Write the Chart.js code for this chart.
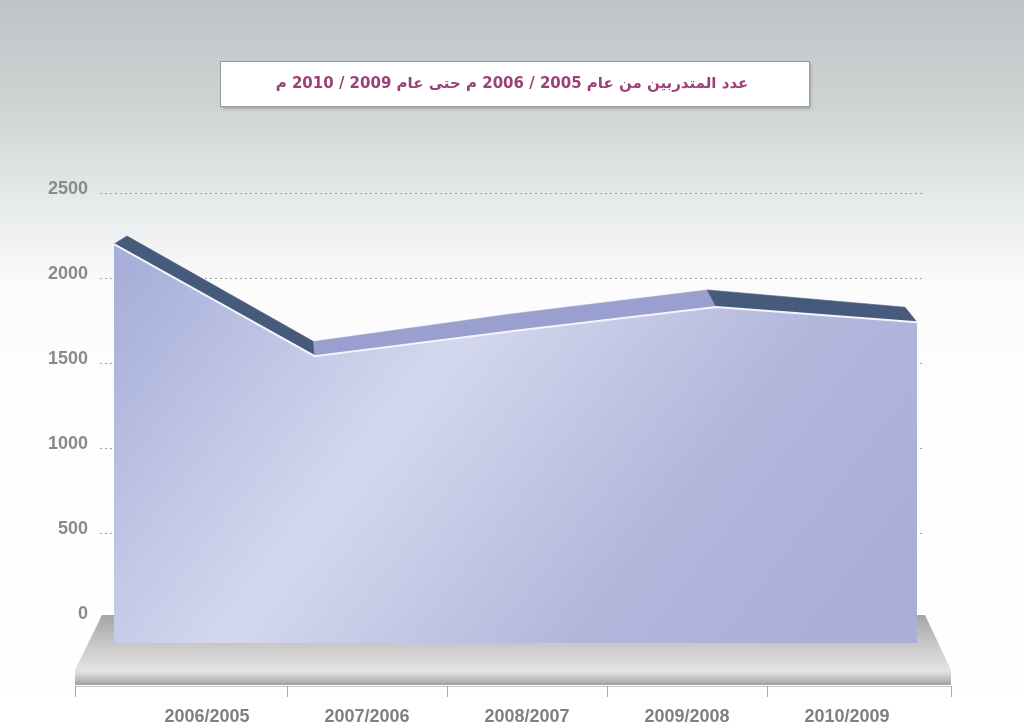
<!DOCTYPE html>
<html>
<head>
<meta charset="utf-8">
<script src="https://cdn.jsdelivr.net/npm/chart.js@4.4.1/dist/chart.umd.min.js"></script>
<style>
  html, body { margin: 0; padding: 0; background: #ffffff; }
  #wrap { width: 1024px; height: 726px; }
  canvas { display: block; }
</style>
</head>
<body>
<div id="wrap"><canvas id="c" width="1024" height="726"></canvas></div>
<script>
// ---- data ----
const categories = ['2006/2005', '2007/2006', '2008/2007', '2009/2008', '2010/2009'];
const trainees = [2200, 1540, 1690, 1830, 1740];
const yTicks = [0, 500, 1000, 1500, 2000, 2500];
const titleText = 'عدد المتدربين من عام 2005 / 2006 م حتى عام 2009 / 2010 م';

// ---- style constants ----
const FACE_BOTTOM = -147;           // value where the front face meets the floor
const DEPTH = [[0, 13, -8], [0.3, -4, -16], [0.75, -9, -17], [1, -12, -15]];
const STRIP_DARK = '#465a7b';
const STRIP_LIGHT = '#99a0cf';

function depthAt(f) {
  for (let i = 0; i < DEPTH.length - 1; i++) {
    const a = DEPTH[i], b = DEPTH[i + 1];
    if (f <= b[0]) {
      const t = (f - a[0]) / (b[0] - a[0]);
      return [a[1] + (b[1] - a[1]) * t, a[2] + (b[2] - a[2]) * t];
    }
  }
  const l = DEPTH[DEPTH.length - 1];
  return [l[1], l[2]];
}

const scenePlugin = {
  id: 'scene',
  beforeDraw(chart) {
    const ctx = chart.ctx;
    const W = chart.width, H = chart.height;
    ctx.save();
    const bg = ctx.createLinearGradient(0, 0, 0, H);
    bg.addColorStop(0, '#bec4c5');
    bg.addColorStop(0.14, '#cdd2d3');
    bg.addColorStop(0.27, '#e6e9ea');
    bg.addColorStop(0.40, '#fcfcfc');
    bg.addColorStop(1, '#ffffff');
    ctx.fillStyle = bg;
    ctx.fillRect(0, 0, W, H);
    // title box
    const bw = 589, bh = 45;
    const bx = 220.5, by = 61.5;
    ctx.shadowColor = 'rgba(0,0,0,0.28)';
    ctx.shadowBlur = 3;
    ctx.shadowOffsetX = 1;
    ctx.shadowOffsetY = 2;
    ctx.fillStyle = '#ffffff';
    ctx.fillRect(bx, by, bw, bh);
    ctx.shadowColor = 'transparent';
    ctx.strokeStyle = '#9a9a9a';
    ctx.lineWidth = 1;
    ctx.strokeRect(bx, by, bw, bh);
    ctx.restore();
  },
  beforeDatasetsDraw(chart) {
    const ctx = chart.ctx;
    const ca = chart.chartArea;
    const ys = chart.scales.y;
    const xl = chart.scales.x;
    const y0 = ys.getPixelForValue(0);
    const backY = y0 - 3, frontY = y0 + 52, bandY = y0 + 67;
    const bL = ca.left + 2, bR = ca.right;
    const fL = ca.left - 25, fR = ca.right + 26;
    ctx.save();
    // floor top
    let g = ctx.createLinearGradient(0, backY, 0, frontY);
    g.addColorStop(0, '#a5a5a5');
    g.addColorStop(0.5, '#c6c6c6');
    g.addColorStop(1, '#e3e3e3');
    ctx.fillStyle = g;
    ctx.beginPath();
    ctx.moveTo(bL, backY);
    ctx.lineTo(bR, backY);
    ctx.lineTo(fR, frontY);
    ctx.lineTo(fL, frontY);
    ctx.closePath();
    ctx.fill();
    // floor front band
    g = ctx.createLinearGradient(0, frontY, 0, bandY);
    g.addColorStop(0, '#e6e6e6');
    g.addColorStop(0.35, '#d2d2d2');
    g.addColorStop(1, '#9f9f9f');
    ctx.fillStyle = g;
    ctx.fillRect(fL, frontY, fR - fL, bandY - frontY);
    // axis line and separators
    ctx.strokeStyle = '#c4c4c4';
    ctx.lineWidth = 1;
    ctx.beginPath();
    ctx.moveTo(fL, ca.bottom + 0.5);
    ctx.lineTo(fR, ca.bottom + 0.5);
    ctx.stroke();
    const seps = [fL];
    for (let i = 0; i < categories.length - 1; i++) seps.push(xl.getPixelForValue(i + 0.5));
    seps.push(fR);
    ctx.strokeStyle = '#a8a8a8';
    ctx.beginPath();
    seps.forEach(x => {
      const px = Math.round(x) + 0.5;
      ctx.moveTo(px, ca.bottom);
      ctx.lineTo(px, ca.bottom + 11);
    });
    ctx.stroke();
    // 3D top strip
    const pts = chart.getDatasetMeta(0).data;
    const x0 = pts[0].x, x1 = pts[pts.length - 1].x;
    const back = pts.map(p => {
      const d = depthAt((p.x - x0) / (x1 - x0));
      return { x: p.x + d[0], y: p.y + d[1] };
    });
    for (let i = 0; i < pts.length - 1; i++) {
      ctx.fillStyle = trainees[i + 1] > trainees[i] ? STRIP_LIGHT : STRIP_DARK;
      ctx.beginPath();
      ctx.moveTo(pts[i].x, pts[i].y);
      ctx.lineTo(pts[i + 1].x, pts[i + 1].y);
      ctx.lineTo(back[i + 1].x, back[i + 1].y);
      ctx.lineTo(back[i].x, back[i].y);
      ctx.closePath();
      ctx.fill();
      ctx.strokeStyle = ctx.fillStyle;
      ctx.lineWidth = 0.6;
      ctx.stroke();
    }
    ctx.restore();
  }
};

function faceGradient(context) {
  const chart = context.chart;
  const ca = chart.chartArea;
  if (!ca) return '#bcc2e2';
  const g = chart.ctx.createLinearGradient(ca.left + 30, 200, ca.left + 680, 700);
  g.addColorStop(0, '#a2aad7');
  g.addColorStop(0.42, '#d3d8ee');
  g.addColorStop(0.75, '#b3b7dc');
  g.addColorStop(1, '#abafd8');
  return g;
}

new Chart(document.getElementById('c'), {
  type: 'line',
  data: {
    datasets: [{
      label: 'trainees',
      data: trainees.map((v, i) => ({ x: i, y: v })),
      xAxisID: 'xArea',
      yAxisID: 'y',
      fill: { value: FACE_BOTTOM },
      backgroundColor: faceGradient,
      borderColor: '#f4f5fa',
      borderWidth: 2,
      pointRadius: 0,
      tension: 0,
      clip: false
    }]
  },
  options: {
    responsive: false,
    devicePixelRatio: 1,
    animation: false,
    layout: { padding: 0 },
    plugins: {
      legend: { display: false },
      tooltip: { enabled: false },
      title: {
        display: true,
        text: titleText,
        color: '#9b4079',
        font: { family: 'DejaVu Sans', size: 15, weight: 'bold', lineHeight: 1.2 },
        padding: { top: 75, bottom: 57 }
      }
    },
    scales: {
      x: {
        type: 'linear',
        position: 'bottom',
        min: -0.66875,
        max: 4.4875,
        afterFit(s) { s.height = 40; },
        afterBuildTicks(s) { s.ticks = categories.map((c, i) => ({ value: i })); },
        grid: { display: false, drawTicks: false },
        border: { display: false },
        ticks: {
          autoSkip: false,
          maxRotation: 0,
          padding: 20,
          color: '#808080',
          font: { family: 'Liberation Sans', size: 18, weight: 'bold' },
          callback: (v) => categories[v]
        }
      },
      xArea: {
        type: 'linear',
        position: 'bottom',
        display: false,
        min: -0.06974,
        max: 4.03985
      },
      y: {
        type: 'linear',
        position: 'left',
        min: -400,
        max: 2753,
        afterFit(s) { s.width = 100; },
        afterBuildTicks(s) { s.ticks = yTicks.map(v => ({ value: v })); },
        grid: { color: '#a0a0a0', lineWidth: 1, drawTicks: false },
        border: { display: false, dash: [2, 3] },
        ticks: {
          padding: 12,
          labelOffset: -4,
          color: '#8a8a8a',
          font: { family: 'Liberation Sans', size: 18, weight: 'bold' },
          callback: (v) => String(v)
        }
      },
      yRight: {
        type: 'linear',
        position: 'right',
        display: true,
        afterFit(s) { s.width = 99; },
        grid: { display: false, drawTicks: false },
        border: { display: false },
        ticks: { display: false }
      }
    }
  },
  plugins: [scenePlugin]
});
</script>
</body>
</html>
